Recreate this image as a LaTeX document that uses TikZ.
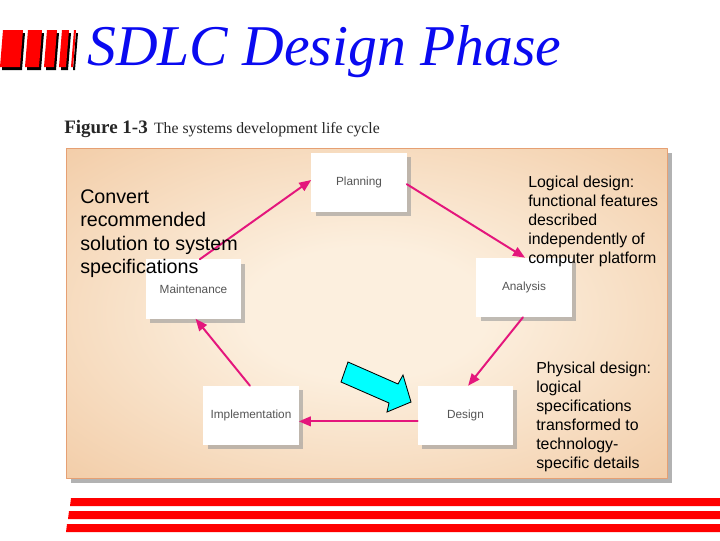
\documentclass[tikz,border=0pt]{standalone}
\usepackage{fontspec}
\setmainfont{Liberation Serif}
\newfontfamily\arialfont{Liberation Sans}
\usetikzlibrary{arrows.meta,shadows}
\definecolor{cyclepink}{RGB}{228,22,124}
\definecolor{pointercyan}{RGB}{0,255,255}
\definecolor{panelin}{RGB}{252,239,222}
\definecolor{panelout}{RGB}{237,186,138}
\definecolor{panelrim}{RGB}{230,160,115}
\definecolor{labelgray}{RGB}{85,85,85}
\definecolor{titleblue}{RGB}{10,10,240}
\pgfdeclareradialshading{panelglow}{\pgfpoint{0bp}{0bp}}{color(0bp)=(panelin); color(10bp)=(panelin); color(50bp)=(panelout)}

\begin{document}
\begin{tikzpicture}[x=0.025cm,y=-0.025cm,line join=round,
  phase/.style={fill=white,minimum width=2.375cm,minimum height=1.475cm,inner sep=0pt,font=\arialfont\fontsize{8.4}{10}\selectfont,text=labelgray,drop shadow={shadow xshift=3pt,shadow yshift=-3pt,fill=black!40,opacity=0.6}},
  flow/.style={-{Triangle[length=3mm,width=2.4mm]},line width=1.4pt,draw=cyclepink,line cap=round},
  note/.style={anchor=north west,inner sep=0pt,align=left,font=\arialfont\fontsize{11.3}{13.4}\selectfont}]
\useasboundingbox (0,0) rectangle (720,540);
% title bars
\fill[black] (5,33) -- (25,33) -- (22,70) -- (2,70) -- cycle;
\fill[black] (30,33) -- (44,33) -- (41,70) -- (27,70) -- cycle;
\fill[black] (49,33) -- (59,33) -- (56,70) -- (46,70) -- cycle;
\fill[black] (64,33) -- (71,33) -- (68,70) -- (61,70) -- cycle;
\fill[black] (76,33) -- (78,33) -- (75,70) -- (73,70) -- cycle;
\fill[red] (3,30) -- (23,30) -- (20,67) -- (0,67) -- cycle;
\fill[red] (28,30) -- (42,30) -- (39,67) -- (25,67) -- cycle;
\fill[red] (47,30) -- (57,30) -- (54,67) -- (44,67) -- cycle;
\fill[red] (62,30) -- (69,30) -- (66,67) -- (59,67) -- cycle;
\fill[red] (74,30) -- (76,30) -- (73,67) -- (71,67) -- cycle;
\node[anchor=base west,inner sep=0pt,text=titleblue,font=\itshape\fontsize{41}{44}\selectfont] (title) at (87,65) {SDLC Design Phase};
\node[anchor=base west,inner sep=0pt,text=black!85,font=\fontsize{11.2}{13}\selectfont] (caption) at (64,133) {{\bfseries\fontsize{13.5}{15}\selectfont Figure 1-3}\hspace{4.5pt}The systems development life cycle};
% panel
\fill[black!30] (71,153) rectangle (672,483);
\shadedraw[shading=panelglow,draw=panelrim,line width=0.6pt] (66,148) rectangle (667,478);
% phases
\node[phase] (plan) at (359,182.5) {Planning};
\node[phase] (ana) at (524,287.5) {Analysis};
\node[phase] (des) at (465.5,415.5) {Design};
\node[phase] (imp) at (251,415.5) {Implementation};
\node[phase] (mnt) at (193.5,289) {Maintenance};
\draw[flow] (mnt.78) -- (plan.177);
\draw[flow] (plan.-2) -- (ana.88);
\draw[flow] (ana.268) -- (des.85);
\draw[flow] (des.187) -- (des.187 -| imp.east);
\draw[flow] (imp.92) -- (mnt.-86);
% pointer
\draw[fill=pointercyan,draw=black,line width=0.6pt,line join=miter] (348,362) -- (398,384) -- (403,375) -- (411,402) -- (387,412) -- (389,403) -- (341,382) -- cycle;
% notes
\node[note,font=\arialfont\fontsize{14}{16.8}\selectfont] (convert) at (80,189) {Convert\\recommended\\solution to system\\specifications};
\node[note] (logical) at (528,176) {Logical design:\\functional features\\described\\independently of\\computer platform};
\node[note] (physical) at (536,362) {Physical design:\\logical\\specifications\\transformed to\\technology-\\specific details};
% bottom stripes
\fill[red] (71,498) -- (720,498) -- (720,506) -- (70,506) -- cycle;
\fill[red] (69,511) -- (720,511) -- (720,519) -- (68,519) -- cycle;
\fill[red] (67,524) -- (720,524) -- (720,532) -- (66,532) -- cycle;
\end{tikzpicture}
\end{document}
